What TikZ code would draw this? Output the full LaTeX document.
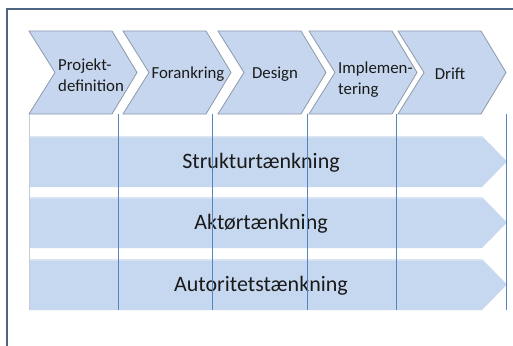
\documentclass[tikz,border=0pt]{standalone}
\usepackage{fontspec}
\setmainfont{Carlito}
\definecolor{chevfill}{HTML}{C6D6EE}
\definecolor{chevline}{HTML}{8C99AB}
\definecolor{bandfill}{HTML}{C6D8EF}
\definecolor{bandtop}{HTML}{DCE6F3}
\definecolor{vline}{HTML}{5585C0}
\definecolor{framecol}{HTML}{4D6580}
\definecolor{textcol}{HTML}{1A1A1A}
\tikzset{
  chev/.style={fill=chevfill, draw=chevline, line width=0.8pt, line join=miter},
  band/.style={fill=bandfill},
  bandedge/.style={draw=bandtop, line width=1.5pt},
  sepline/.style={draw=vline, line width=0.7pt},
  framestyle/.style={draw=framecol, line width=2pt},
  chevtext/.style={font=\fontsize{16.8}{21}\selectfont, text=textcol, inner sep=0pt},
  bandtext/.style={font=\fontsize{22}{26}\selectfont, text=textcol, inner sep=0pt}
}
\begin{document}
\begin{tikzpicture}[x=1pt,y=-1pt]
\useasboundingbox (0,0) rectangle (513,345);
\fill[white] (0,0) rectangle (513,345);
% frame
\draw[framestyle] (7,346) -- (7,9) -- (514,9);
% chevrons
\foreach \x in {29,123,218,309,398} {
  \draw[chev] (\x,31) -- (\x+83,31) -- (\x+108,72.5) -- (\x+83,114) -- (\x,114) -- (\x+26,72.5) -- cycle;
}
% bands
\foreach \y in {136,197,259} {
  \fill[band] (29,\y) -- (482,\y) -- (507,\y+25.5) -- (482,\y+51) -- (29,\y+51) -- cycle;
  \draw[bandedge] (29,\y+0.75) -- (482,\y+0.75) -- (482.6,\y+1.5);
}
% band labels
\node[bandtext] (b1) at (261,163) {Strukturtænkning};
\node[bandtext] (b2) at (261,224) {Aktørtænkning};
\node[bandtext] (b3) at (261,286) {Autoritetstænkning};
% chevron labels
\node[chevtext, align=left, anchor=west] (c1) at (58,75) {Projekt-\\definition};
\node[chevtext] (c2) at (188,74) {Forankring};
\node[chevtext] (c3) at (275,74) {Design};
\node[chevtext, align=left, anchor=west] (c4) at (338,80) {Implemen-\\tering};
\node[chevtext] (c5) at (450,74) {Drift};
% separator lines
\coordinate (t0) at (29,114);  \coordinate (u0) at (29,310);
\coordinate (t1) at (118,114); \coordinate (u1) at (118,310);
\coordinate (t2) at (212,114); \coordinate (u2) at (212,310);
\coordinate (t3) at (307,114); \coordinate (u3) at (307,310);
\coordinate (t4) at (396,114); \coordinate (u4) at (396,310);
\coordinate (t5) at (506,114); \coordinate (u5) at (506,310);
\draw[draw=chevline!50, line width=0.6pt] (t0) -- (u0);
\draw[sepline] (t1) -- (u1);
\draw[sepline] (t2) -- (u2);
\draw[sepline] (t3) -- (u3);
\draw[sepline] (t4) -- (u4);
\draw[sepline] (t5) -- (u5);
\end{tikzpicture}
\end{document}
